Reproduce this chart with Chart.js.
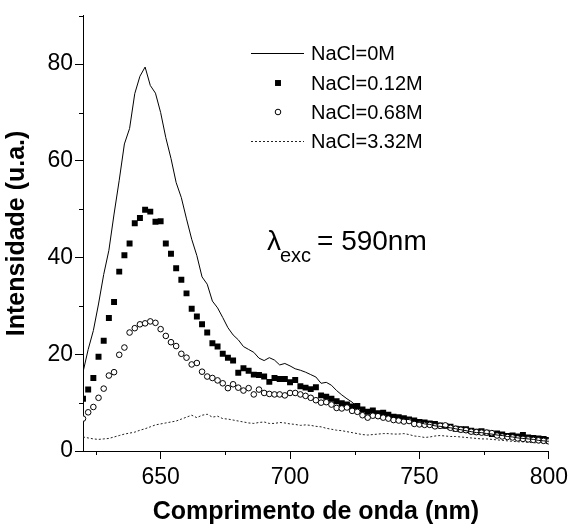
<!DOCTYPE html>
<html>
<head>
<meta charset="utf-8">
<script src="https://cdn.jsdelivr.net/npm/chart.js@4/dist/chart.umd.min.js"></script>
<style>
  html, body { margin: 0; padding: 0; background: #fff; }
</style>
</head>
<body>
<canvas id="grafico" width="573" height="527"></canvas>
<script>
// Malla de longitudes de onda (nm), un punto cada 2 nm
const longitudes = Array.from({ length: 91 }, (_, i) => 620 + 2 * i);

// Intensidades (u.a.)
const nacl0M = [
  16.3, 21.0, 24.9, 30.4, 36.5, 41.5, 49.0, 56.0, 63.5, 66.7,
  73.9, 77.5, 79.4, 75.6, 74.0, 70.0, 64.8, 60.5, 55.5, 52.4,
  48.0, 43.8, 40.4, 36.0, 34.5, 31.0, 29.6, 27.6, 25.5, 24.0,
  23.0, 21.6, 21.0, 20.4, 19.2, 18.7, 19.3, 18.8, 17.8, 18.1,
  17.6, 17.0, 16.7, 16.3, 15.8, 15.3, 14.0, 14.2, 13.6, 12.5,
  11.6, 10.8, 10.1, 9.1, 8.5, 8.4, 8.1, 8.0, 7.6, 7.4,
  7.0, 6.9, 6.6, 6.5, 6.2, 5.9, 5.6, 5.5, 5.2, 5.1,
  4.9, 4.8, 4.6, 4.4, 4.2, 4.0, 3.8, 3.8, 3.6, 3.5,
  3.3, 3.2, 3.0, 2.9, 2.7, 2.6, 2.5, 2.4, 2.2, 2.1,
  2.0
];
const nacl012M = [
  10.8, 12.7, 15.1, 19.5, 22.8, 27.5, 30.8, 37.1, 40.5, 42.9,
  47.1, 48.2, 49.9, 49.5, 47.4, 47.5, 42.9, 40.8, 37.8, 35.4,
  32.6, 29.4, 27.8, 26.2, 24.5, 22.3, 21.6, 20.1, 19.3, 18.7,
  16.2, 17.1, 16.6, 15.8, 15.7, 15.4, 14.3, 15.1, 14.9, 14.9,
  14.2, 14.7, 13.4, 13.1, 12.8, 13.2, 11.5, 11.2, 10.8, 10.3,
  9.9, 9.6, 9.2, 9.3, 8.6, 8.1, 8.4, 7.8, 7.9, 7.5,
  7.1, 7.0, 6.8, 6.5, 6.3, 6.0, 5.9, 5.7, 5.6, 5.3,
  5.2, 5.0, 4.6, 4.5, 4.5, 4.2, 4.0, 4.1, 3.8, 3.5,
  3.6, 3.4, 3.1, 3.2, 3.0, 3.3, 2.8, 2.7, 2.6, 2.5,
  2.3
];
const nacl068M = [
  6.7, 8.0, 9.1, 11.0, 12.9, 15.6, 16.3, 19.9, 21.4, 24.5,
  25.4, 26.2, 26.4, 26.8, 26.5, 25.2, 23.8, 22.5, 21.7, 20.1,
  19.3, 17.9, 18.2, 16.4, 15.4, 15.1, 14.6, 14.0, 13.0, 13.8,
  13.1, 12.5, 13.0, 11.7, 12.7, 12.0, 11.8, 11.7, 11.7, 11.5,
  12.0, 12.0, 11.7, 11.4, 11.0, 10.5, 10.0, 10.1, 9.6, 8.9,
  8.8, 9.0, 8.3, 8.1, 7.4, 6.9, 7.3, 7.2, 6.9, 6.7,
  6.4, 6.3, 6.1, 6.2, 5.6, 5.5, 5.4, 5.4, 5.1, 5.2,
  5.3, 4.8, 4.6, 4.4, 4.3, 4.0, 3.9, 3.8, 3.8, 3.7,
  3.2, 3.0, 2.9, 2.8, 2.6, 2.5, 2.4, 2.3, 2.2, 2.1,
  2.0
];
const nacl332M = [
  2.9, 2.7, 2.5, 2.4, 2.5, 2.6, 2.9, 3.2, 3.5, 3.7,
  3.9, 4.3, 4.6, 5.0, 5.4, 5.6, 5.8, 6.0, 6.2, 6.6,
  7.0, 7.4, 6.9, 7.4, 7.6, 7.0, 7.2, 6.7, 6.6, 6.4,
  6.2, 6.0, 5.8, 5.7, 5.9, 6.0, 5.7, 5.7, 5.9, 5.8,
  5.6, 5.5, 5.3, 5.4, 5.3, 5.1, 5.0, 4.7, 4.5, 4.3,
  4.2, 4.0, 3.8, 3.6, 3.4, 3.3, 3.4, 3.5, 3.6, 3.6,
  3.5, 3.5, 3.6, 3.4, 3.1, 3.0, 2.8, 2.9, 3.1, 3.2,
  3.1, 3.0, 3.0, 2.9, 2.8, 2.7, 2.6, 2.5, 2.5, 2.4,
  2.3, 2.2, 2.1, 2.0, 1.9, 1.9, 1.8, 1.7, 1.7, 1.6,
  1.5
];

const etiquetas = ['NaCl=0M', 'NaCl=0.12M', 'NaCl=0.68M', 'NaCl=3.32M'];
const ticksX = [650, 700, 750, 800];
const ticksXMenores = [625, 675, 725, 775];
const ticksY = [0, 20, 40, 60, 80];
const ticksYMenores = [10, 30, 50, 70, 90];

const fuente = 'Liberation Sans, Arial, sans-serif';

function puntos(valores) {
  return valores.map((v, i) => ({ x: longitudes[i], y: v }));
}

// Marcas menores, leyenda y la anotación de la excitación
const extras = {
  id: 'extras',
  afterDraw(chart) {
    const ctx = chart.ctx;
    const sx = chart.scales.x;
    const sy = chart.scales.y;
    const area = chart.chartArea;
    ctx.save();
    ctx.strokeStyle = '#000';
    ctx.lineWidth = 1;
    ctx.beginPath();
    ticksXMenores.forEach(v => {
      const px = Math.round(sx.getPixelForValue(v)) + 0.5;
      ctx.moveTo(px, area.bottom);
      ctx.lineTo(px, area.bottom + 4);
    });
    ticksYMenores.forEach(v => {
      const py = Math.round(sy.getPixelForValue(v)) + 0.5;
      ctx.moveTo(area.left - 4, py);
      ctx.lineTo(area.left, py);
    });
    ctx.stroke();

    // Leyenda
    const ds = chart.data.datasets;
    const filas = [53, 83, 112, 141];
    ctx.textBaseline = 'middle';
    ds.forEach((d, i) => {
      const y = filas[i];
      if (d.showLine === false) {
        ctx.fillStyle = d.backgroundColor;
        ctx.strokeStyle = d.borderColor;
        ctx.lineWidth = d.borderWidth;
        Chart.helpers.drawPoint(ctx, {
          pointStyle: d.pointStyle, radius: d.pointRadius, borderWidth: d.borderWidth, rotation: 0
        }, 278, y);
      } else {
        ctx.beginPath();
        ctx.strokeStyle = d.borderColor;
        ctx.lineWidth = d.borderWidth;
        ctx.setLineDash(d.borderDash || []);
        ctx.moveTo(251, y + 0.5);
        ctx.lineTo(304, y + 0.5);
        ctx.stroke();
        ctx.setLineDash([]);
      }
      ctx.font = '20px ' + fuente;
      ctx.fillStyle = '#000';
      ctx.fillText(d.label, 311, y + 1);
    });

    // λexc = 590nm
    ctx.textBaseline = 'alphabetic';
    ctx.fillStyle = '#000';
    ctx.font = '28px ' + fuente;
    ctx.fillText('\u03bb', 267, 250);
    ctx.font = '20px ' + fuente;
    ctx.fillText('exc', 280, 262);
    ctx.font = '28px ' + fuente;
    ctx.fillText('= 590nm', 317, 250);
    ctx.restore();
  }
};

const ctx = document.getElementById('grafico').getContext('2d');
const grafico = new Chart(ctx, {
  type: 'line',
  data: {
    datasets: [
      {
        label: etiquetas[0], data: puntos(nacl0M),
        borderColor: '#000', borderWidth: 1, pointRadius: 0, tension: 0, fill: false, order: 1
      },
      {
        label: etiquetas[1], data: puntos(nacl012M), showLine: false,
        pointStyle: 'rect', pointRadius: 4.2, backgroundColor: '#000', borderColor: '#000', borderWidth: 0, order: 3
      },
      {
        label: etiquetas[2], data: puntos(nacl068M), showLine: false,
        pointStyle: 'circle', pointRadius: 2.8, backgroundColor: '#fff', borderColor: '#000', borderWidth: 1, order: 2
      },
      {
        label: etiquetas[3], data: puntos(nacl332M),
        borderColor: '#222', borderWidth: 1, borderDash: [2, 2], pointRadius: 0, tension: 0, fill: false, order: 4
      }
    ]
  },
  options: {
    responsive: false,
    animation: false,
    layout: { padding: { left: 0, right: 21, top: 15, bottom: 0 } },
    plugins: { legend: { display: false }, tooltip: { enabled: false } },
    scales: {
      x: {
        type: 'linear', min: 620, max: 800,
        afterBuildTicks: s => { s.ticks = ticksX.map(v => ({ value: v })); },
        afterFit: s => { s.height = 76; },
        grid: { drawOnChartArea: false, tickLength: 8, color: '#000' },
        border: { color: '#000', width: 1 },
        ticks: { color: '#000', font: { family: fuente, size: 23 }, padding: 5, maxRotation: 0 },
        title: {
          display: true, text: 'Comprimento de onda (nm)', color: '#000',
          font: { family: fuente, size: 25, weight: 'bold' }, padding: { top: 4, bottom: 0 }
        }
      },
      y: {
        type: 'linear', min: 0, max: 90,
        afterBuildTicks: s => { s.ticks = ticksY.map(v => ({ value: v })); },
        afterFit: s => { s.width = 83; },
        grid: { drawOnChartArea: false, tickLength: 8, color: '#000' },
        border: { color: '#000', width: 1 },
        ticks: { color: '#000', font: { family: fuente, size: 23 }, padding: 2 },
        title: {
          display: true, text: 'Intensidade (u.a.)', color: '#000',
          font: { family: fuente, size: 25, weight: 'bold' }, padding: { top: 2, bottom: 0 }
        }
      }
    }
  },
  plugins: [extras]
});
</script>
</body>
</html>
